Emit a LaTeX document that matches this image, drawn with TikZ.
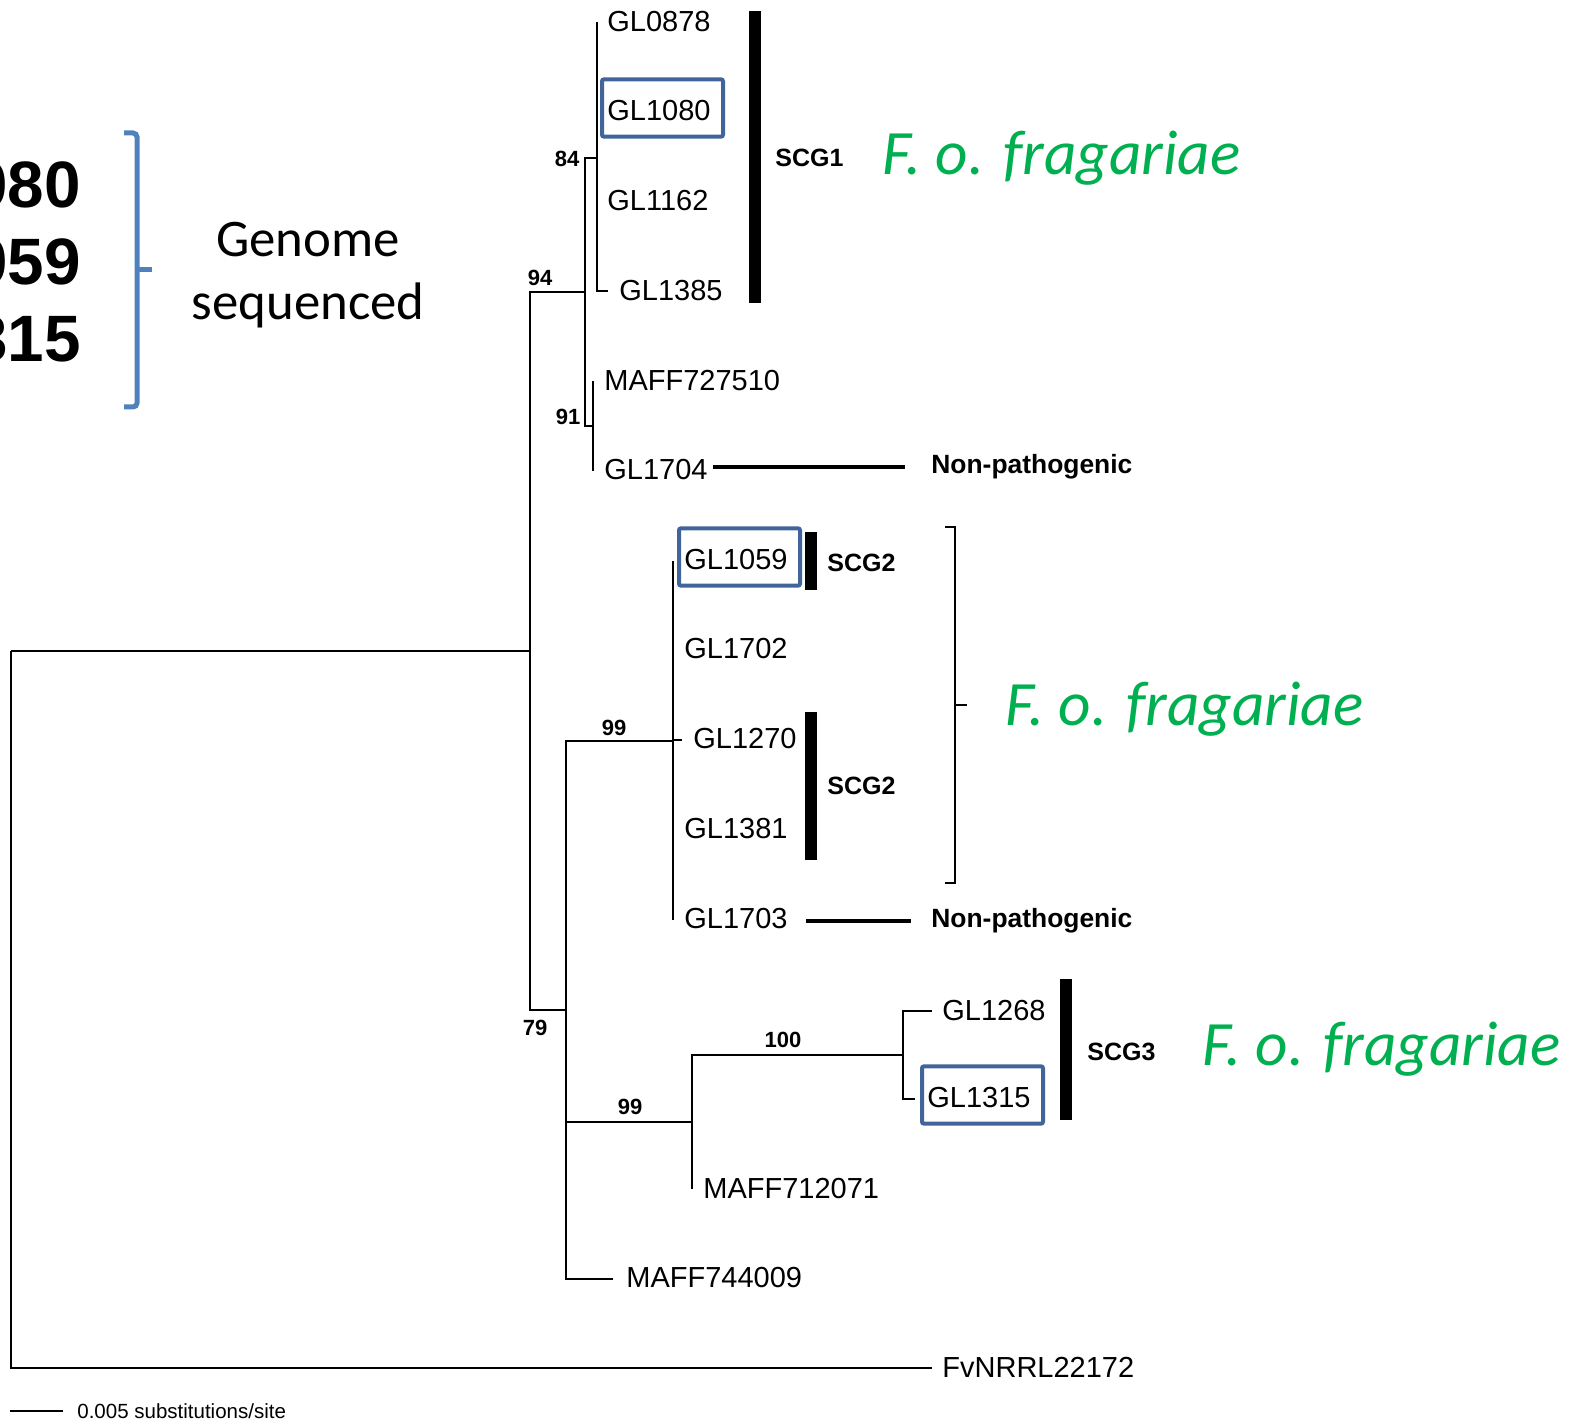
\documentclass[tikz,border=0pt]{standalone}
\usepackage{fontspec}
\setmainfont{Liberation Sans}
\newfontfamily\calibri{Carlito}
\usepackage{xcolor}
\usetikzlibrary{calc}
\definecolor{fofGreen}{HTML}{00B050}
\definecolor{seqBlue}{HTML}{41649A}
\definecolor{braceBlue}{HTML}{4F81BD}

\begin{document}
\begin{tikzpicture}[x=0.5pt,y=-0.5pt,
  branch/.style={line width=0.8pt},
  taxon/.style={anchor=west,inner sep=0pt,font=\fontsize{14.5}{17}\selectfont},
  boot/.style={inner sep=0pt,font=\fontsize{11}{13}\selectfont\bfseries},
  grp/.style={anchor=west,inner sep=0pt,font=\fontsize{12.5}{15}\selectfont\bfseries},
  forma/.style={anchor=base west,inner sep=0pt,text=fofGreen,font=\calibri\itshape\fontsize{31.6}{38}\selectfont},
  npline/.style={line width=2pt}]
\newcommand{\seqbox}[1]{%
  \draw[seqBlue,line width=2pt,rounded corners=1pt] ($(#1.south west)+(-5,15)$) rectangle ($(#1.north east)+(12,-21)$);
}
\newcommand{\scgbar}[6]{%
  \draw[line width=6pt] (#1,#2) -- (#1,#3);
  \node[grp] (#4) at (#6) {#5};
}
\useasboundingbox (0,0) rectangle (1581,1422);
% inner nodes
\coordinate (root) at (11,651);
\coordinate (nIn) at (530,651);
\coordinate (n94) at (585,292);
\coordinate (n84) at (597,158);
\coordinate (n91) at (593,426);
\coordinate (n79) at (566,1010);
\coordinate (n99a) at (673,741);
\coordinate (n99b) at (692,1122);
\coordinate (n100) at (903,1055);
% tips
\coordinate (e0878) at (597,22);
\coordinate (e1080) at (597,111);
\coordinate (e1162) at (597,201);
\coordinate (e1385) at (608,291);
\coordinate (e727510) at (593,381);
\coordinate (e1704) at (593,471);
\coordinate (e1059) at (673,561);
\coordinate (e1702) at (673,649);
\coordinate (e1270) at (682,740);
\coordinate (e1381) at (673,829);
\coordinate (e1703) at (673,920);
\coordinate (e1268) at (932,1011);
\coordinate (e1315) at (915,1099);
\coordinate (e712071) at (692,1189);
\coordinate (e744009) at (613,1279);
\coordinate (eFv) at (932,1368);
\foreach \p/\c in {root/nIn,root/eFv,nIn/n94,nIn/n79,n94/n84,n94/n91,
  n84/e0878,n84/e1080,n84/e1162,n84/e1385,n91/e727510,n91/e1704,
  n79/n99a,n79/n99b,n79/e744009,n99a/e1059,n99a/e1702,n99a/e1270,n99a/e1381,n99a/e1703,
  n99b/n100,n99b/e712071,n100/e1268,n100/e1315}
  \draw[branch] (\p) |- (\c);
% labels
\foreach \n/\x/\y/\s in {0878/607/22/GL0878,1080/607/111/GL1080,1162/607/201/GL1162,
  1385/619/291/GL1385,727510/604/381/MAFF727510,1704/604/470/GL1704,
  1059/684/560/GL1059,1702/684/649/GL1702,1270/693/739/GL1270,1381/684/829/GL1381,
  1703/684/919/GL1703,1268/942/1011/GL1268,1315/927/1098/GL1315,
  712071/703/1189/MAFF712071,744009/626/1278/MAFF744009,Fv/942/1367/FvNRRL22172}
  \node[taxon] (t\n) at (\x,\y) {\s};
\node[boot] (b84) at (567,159) {84};
\node[boot] (b94) at (540,278) {94};
\node[boot] (b91) at (568,417) {91};
\node[boot] (b99a) at (614,728) {99};
\node[boot] (b79) at (535,1028) {79};
\node[boot] (b99b) at (630,1107) {99};
\node[boot] (b100) at (783,1040) {100};
\seqbox{t1080}
\seqbox{t1059}
\seqbox{t1315}
\scgbar{754.5}{11}{303}{scg1}{SCG1}{775,158}
\scgbar{810.5}{532}{590}{scg2a}{SCG2}{827,563}
\scgbar{810.5}{712}{860}{scg2b}{SCG2}{827,786}
\scgbar{1066}{979}{1120}{scg3}{SCG3}{1087,1052}
\node[grp,font=\fontsize{13.2}{15}\selectfont\bfseries] (np1) at (931,467) {Non-pathogenic};
\node[grp,font=\fontsize{13.2}{15}\selectfont\bfseries] (np2) at (931,921) {Non-pathogenic};
\draw[npline,shorten <=2.5pt,shorten >=13pt] (t1704.east |- np1) -- (np1.west);
\draw[npline,shorten <=9pt,shorten >=10pt] (t1703.east |- np2) -- (np2.west);
\draw[line width=0.8pt] (945,527) -| (955,883) -- (945,883);
\draw[line width=0.8pt] (955,705) -- (967,705);
\node[forma] (fof1) at (882,175) {F. o. fragariae};
\node[forma] (fof2) at (1005,726) {F. o. fragariae};
\node[forma] (fof3) at (1202,1065) {F. o. fragariae};
% sequenced strains
\begin{scope}
\clip (0,0) rectangle (1581,1422);
\foreach \n/\y in {1080/208,1059/285,1315/362}
  \node[anchor=base east,inner sep=0pt,font=\fontsize{32.8}{40}\selectfont\bfseries] (big\n) at (81,\y) {GL\n};
\end{scope}
\draw[braceBlue,line width=2.5pt,rounded corners=2pt] (124,133) -| (137,407) -- (124,407);
\draw[braceBlue,line width=2.5pt] (137,270) -- (152,270);
\node[anchor=base,inner sep=0pt,font=\calibri\fontsize{26.4}{32}\selectfont] (genome) at (308,257) {Genome};
\node[anchor=base,inner sep=0pt,font=\calibri\fontsize{26.4}{32}\selectfont] (seqd) at (308,320) {sequenced};
% scale bar
\coordinate (sb0) at (10,1411);
\coordinate (sb1) at (63,1411);
\draw[branch] (sb0) -- (sb1);
\node[anchor=west,inner sep=0pt,font=\fontsize{10.25}{12}\selectfont] (sbtext) at (77,1411) {0.005 substitutions/site};
\end{tikzpicture}
\end{document}
